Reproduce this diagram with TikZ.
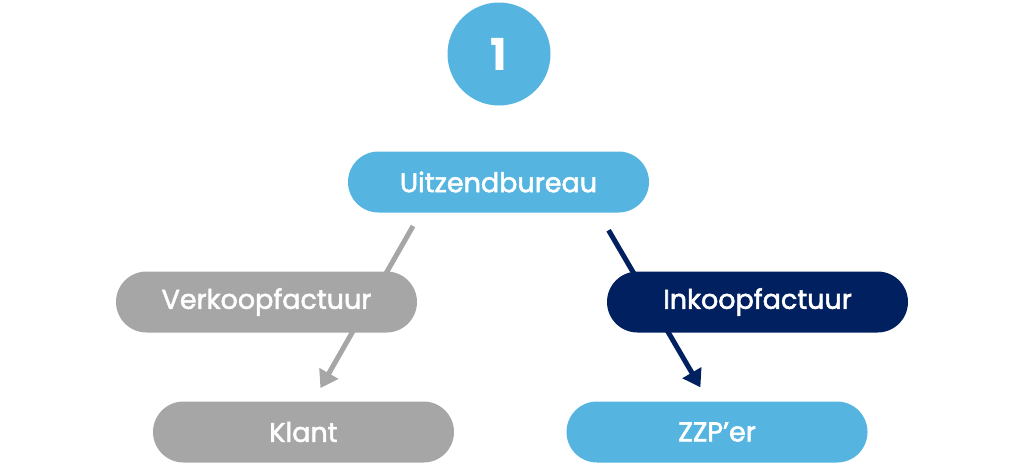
\documentclass[tikz,border=0pt]{standalone}
\usepackage{fontspec}
\setmainfont{Poppins}
\newfontfamily\pillfont{Poppins}[FakeBold=2]
\usetikzlibrary{arrows.meta,positioning}
\definecolor{skyblue}{HTML}{55B5E0}
\definecolor{midgrey}{HTML}{A6A6A6}
\definecolor{navy}{HTML}{002060}

\begin{document}
\begin{tikzpicture}[x=1pt, y=-1pt, font=\pillfont\fontsize{27}{30}\selectfont,
  pill/.style={minimum width=301pt, minimum height=61pt, rounded corners=30.5pt, text=white, inner sep=0pt},
  flow/.style={line width=5pt, -{Triangle[length=17pt, width=21pt]}}]
\useasboundingbox (0,0) rectangle (1024,469);
% step badge
\node[circle, fill=skyblue, minimum size=103pt, text=white, font=\fontsize{44}{48}\bfseries] (badge) at (499,54) {1};
% arrows first, so the pills sit on top
\coordinate (uitzc) at (498.5,182);
\coordinate (klantc) at (303.5,432);
\coordinate (zzpc) at (717,432);
\draw[flow, midgrey, shorten <=15pt, shorten >=16pt] ([xshift=-78pt,yshift=-31pt]uitzc) -- ([xshift=9pt,yshift=30pt]klantc);
\draw[flow, navy, shorten <=20pt, shorten >=17pt] ([xshift=100pt,yshift=-31pt]uitzc) -- ([xshift=-8pt,yshift=30pt]zzpc);
% pills
\node[pill, fill=skyblue] (uitz) at (uitzc) {Uitzendbureau};
\node[pill, fill=midgrey] (verkoop) at (266.5,302) {Verkoopfactuur};
\node[pill, fill=navy] (inkoop) at (757.5,302) {Inkoopfactuur};
\node[pill, fill=midgrey] (klant) at (klantc) {Klant};
\node[pill, fill=skyblue] (zzp) at (zzpc) {ZZP’er};
\end{tikzpicture}
\end{document}
